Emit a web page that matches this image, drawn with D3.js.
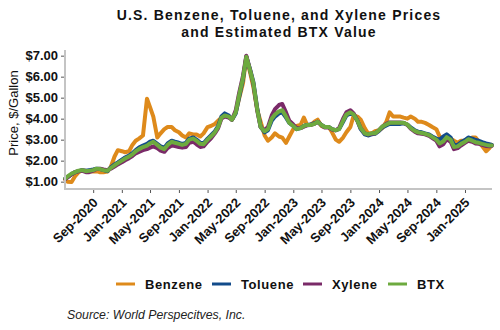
<!DOCTYPE html>
<html>
<head>
<meta charset="utf-8">
<script src="https://cdn.jsdelivr.net/npm/d3@7"></script>
<style>
  html, body { margin: 0; padding: 0; background: #ffffff; }
  svg { display: block; font-family: "Liberation Sans", Arial, sans-serif; }
</style>
</head>
<body>
<svg id="chart" width="500" height="330"></svg>
<script>
// ---- data ----
const titleLines = ["U.S. Benzene, Toluene, and Xylene Prices", "and Estimated BTX Value"];
const yAxisTitle = "Price, $/Gallon";
const sourceText = "Source: World Perspecitves, Inc.";
const seriesNames = ["Benzene", "Toluene", "Xylene", "BTX"];
const seriesColors = ["#DE8A1B", "#124B8A", "#7A2A68", "#6DAA3F"];

const dates = [
  "2020-05-05","2020-05-15","2020-06-01","2020-06-15","2020-07-01","2020-07-15","2020-08-01","2020-08-15",
  "2020-09-01","2020-09-15","2020-10-01","2020-10-15","2020-11-01","2020-11-15","2020-12-01","2020-12-15",
  "2021-01-01","2021-01-15","2021-02-01","2021-02-15","2021-03-01","2021-03-15","2021-04-01","2021-04-18",
  "2021-05-01","2021-05-15","2021-06-01","2021-06-15","2021-07-01","2021-07-15","2021-08-01","2021-08-15",
  "2021-09-01","2021-09-15","2021-10-01","2021-10-15","2021-11-01","2021-11-15","2021-12-01","2021-12-15",
  "2022-01-01","2022-01-15","2022-02-01","2022-02-15","2022-03-01","2022-03-15","2022-04-01","2022-04-15",
  "2022-05-01","2022-05-15","2022-06-01","2022-06-15","2022-07-01","2022-07-15","2022-08-01","2022-08-15",
  "2022-09-01","2022-09-15","2022-10-01","2022-10-15","2022-11-01","2022-11-15","2022-12-01","2022-12-15",
  "2023-01-01","2023-01-15","2023-02-01","2023-02-15","2023-03-01","2023-03-15","2023-04-01","2023-04-15",
  "2023-05-01","2023-05-15","2023-06-01","2023-06-15","2023-07-01","2023-07-15","2023-08-01","2023-08-15",
  "2023-09-01","2023-09-15","2023-10-01","2023-10-15","2023-11-01","2023-11-15","2023-12-01","2023-12-15",
  "2024-01-01","2024-01-15","2024-02-01","2024-02-15","2024-03-01","2024-03-15","2024-04-01","2024-04-15",
  "2024-05-01","2024-05-15","2024-06-01","2024-06-15","2024-07-01","2024-07-15","2024-08-01","2024-08-15",
  "2024-09-01","2024-09-15","2024-10-01","2024-10-15","2024-11-01","2024-11-15","2024-12-01","2024-12-15",
  "2025-01-01","2025-01-15","2025-02-01","2025-02-15","2025-03-01","2025-03-15","2025-04-01","2025-04-15",
  "2025-04-25"
];

const benzene = [
  1.10,1.00, 0.98,1.25, 1.45,1.55, 1.52,1.50,
  1.48,1.50, 1.45,1.45, 1.48,1.70, 2.20,2.50,
  2.45,2.40, 2.45,2.75, 2.95,3.05, 3.20,4.95,
  4.55,4.10, 3.10,3.30, 3.50,3.60, 3.60,3.45,
  3.35,3.20, 3.10,3.30, 3.25,3.25, 3.15,3.30,
  3.60,3.65, 3.75,3.90, 4.05,4.20, 4.10,3.95,
  4.30,4.95, 5.70,6.95, 6.20,5.50, 4.40,3.85,
  3.20,2.95, 3.10,3.30, 3.15,3.10, 2.85,3.15,
  3.50,3.65, 3.70,4.05, 3.70,3.70, 3.85,3.95,
  3.65,3.60, 3.60,3.35, 3.00,2.90, 3.10,3.35,
  3.60,4.15, 4.10,3.95, 3.55,3.30, 3.30,3.40,
  3.45,3.55, 3.85,4.30, 4.10,4.10, 4.10,4.05,
  4.00,4.10, 4.00,3.85, 3.85,3.80, 3.70,3.60,
  3.50,3.15, 3.05,3.10, 3.05,2.95, 2.85,2.95,
  2.95,3.00, 3.10,3.10, 2.90,2.70, 2.45,2.60,
  2.75
];

const toluene = [
  1.15,1.22, 1.35,1.45, 1.50,1.55, 1.52,1.55,
  1.58,1.62, 1.60,1.55, 1.50,1.68, 1.82,1.92,
  2.05,2.15, 2.25,2.35, 2.50,2.62, 2.72,2.80,
  2.90,2.95, 2.80,2.68, 2.62,2.82, 2.95,2.90,
  2.85,2.80, 2.85,3.05, 3.10,3.00, 2.85,2.83,
  3.05,3.20, 3.40,3.65, 4.10,4.25, 4.15,3.95,
  4.25,5.00, 5.90,6.95, 6.35,5.75, 4.45,3.60,
  3.35,3.45, 3.90,4.10, 4.25,4.30, 4.05,3.80,
  3.65,3.50, 3.55,3.65, 3.70,3.72, 3.78,3.85,
  3.70,3.60, 3.60,3.50, 3.45,3.50, 3.85,4.15,
  4.25,4.20, 3.90,3.50, 3.25,3.20, 3.25,3.28,
  3.42,3.58, 3.68,3.75, 3.75,3.75, 3.75,3.78,
  3.72,3.58, 3.45,3.38, 3.35,3.30, 3.25,3.15,
  3.05,3.00, 3.15,3.25, 3.10,2.75, 2.75,2.88,
  2.98,3.10, 3.05,2.98, 2.95,2.88, 2.82,2.78,
  2.75
];

const xylene = [
  1.12,1.20, 1.35,1.45, 1.50,1.52, 1.45,1.45,
  1.52,1.60, 1.62,1.58, 1.55,1.62, 1.72,1.82,
  1.92,2.02, 2.12,2.22, 2.35,2.42, 2.50,2.55,
  2.62,2.68, 2.60,2.48, 2.42,2.60, 2.72,2.70,
  2.65,2.62, 2.65,2.85, 2.90,2.78, 2.65,2.68,
  2.90,3.05, 3.30,3.55, 4.00,4.10, 4.05,3.95,
  4.40,5.20, 6.05,7.00, 6.30,5.65, 4.35,3.60,
  3.45,3.60, 4.15,4.45, 4.65,4.70, 4.30,3.90,
  3.72,3.55, 3.55,3.62, 3.68,3.70, 3.75,3.85,
  3.68,3.58, 3.58,3.48, 3.45,3.55, 4.00,4.30,
  4.40,4.25, 3.90,3.55, 3.30,3.25, 3.28,3.30,
  3.45,3.62, 3.75,3.82, 3.82,3.82, 3.82,3.80,
  3.70,3.52, 3.38,3.30, 3.28,3.25, 3.18,3.08,
  2.95,2.68, 2.78,3.02, 2.90,2.55, 2.60,2.72,
  2.85,2.95, 2.90,2.82, 2.80,2.75, 2.70,2.68,
  2.70
];

const btx = [
  1.15,1.25, 1.38,1.45, 1.52,1.55, 1.50,1.52,
  1.55,1.62, 1.60,1.55, 1.52,1.65, 1.78,1.88,
  2.00,2.10, 2.20,2.30, 2.45,2.55, 2.65,2.72,
  2.82,2.90, 2.75,2.62, 2.55,2.75, 2.90,2.85,
  2.80,2.75, 2.80,3.00, 3.05,2.95, 2.80,2.78,
  3.00,3.15, 3.35,3.60, 4.05,4.15, 4.10,3.95,
  4.30,5.10, 5.95,6.95, 6.30,5.70, 4.40,3.60,
  3.40,3.50, 4.00,4.20, 4.35,4.40, 4.10,3.80,
  3.65,3.50, 3.55,3.65, 3.70,3.70, 3.75,3.85,
  3.70,3.60, 3.60,3.50, 3.45,3.50, 3.90,4.20,
  4.30,4.20, 3.90,3.55, 3.30,3.25, 3.30,3.30,
  3.45,3.62, 3.72,3.80, 3.80,3.80, 3.80,3.80,
  3.72,3.55, 3.42,3.35, 3.32,3.28, 3.22,3.12,
  3.00,2.82, 2.92,3.12, 3.00,2.65, 2.68,2.80,
  2.90,3.02, 2.95,2.88, 2.85,2.80, 2.75,2.72,
  2.72
];

const yTickValues = [1, 2, 3, 4, 5, 6, 7];
const xTickDates = ["2020-09-01","2021-01-01","2021-05-01","2021-09-01","2022-01-01","2022-05-01",
  "2022-09-01","2023-01-01","2023-05-01","2023-09-01","2024-01-01","2024-05-01","2024-09-01","2025-01-01"];

// ---- drawing ----
(function () {
const svg = d3.select("#chart");
const parse = d3.utcParse("%Y-%m-%d");
const pLeft = 65, pRight = 492, pTop = 50, pBottom = 189;

const x = d3.scaleUtc()
  .domain([parse("2020-05-04"), parse("2025-04-26")])
  .range([pLeft, pRight]);
const y = d3.scaleLinear().domain([0.65, 7.27]).range([pBottom, pTop]);

// title
svg.append("text")
  .attr("x", 279).attr("y", 20)
  .attr("text-anchor", "middle")
  .style("font-size", "14px").style("font-weight", "bold").style("letter-spacing", "1.2px")
  .attr("fill", "#111")
  .selectAll("tspan").data(titleLines).join("tspan")
  .attr("x", 279).attr("dy", (d, i) => i === 0 ? 0 : 16.5)
  .text(d => d);

// lines
const allSeries = [benzene, toluene, xylene, btx];
const line = d3.line()
  .x((d, i) => x(parse(dates[i])))
  .y(d => y(d));
allSeries.forEach((vals, k) => {
  svg.append("path")
    .datum(vals)
    .attr("d", line)
    .attr("fill", "none")
    .attr("stroke", seriesColors[k])
    .attr("stroke-width", 4)
    .attr("stroke-linejoin", "round")
    .attr("stroke-linecap", "round");
});

// y axis
const yAxis = svg.append("g").attr("transform", `translate(${pLeft},0)`)
  .call(d3.axisLeft(y).tickValues(yTickValues).tickFormat(d3.format("$.2f")).tickSize(4).tickPadding(3));
yAxis.select(".domain").remove();
yAxis.selectAll(".tick line").attr("stroke", "#555").attr("stroke-width", 1);
yAxis.selectAll(".tick text")
  .style("font-size", "13px").style("font-weight", "bold").attr("fill", "#111")
  .style("font-family", "Liberation Sans, Arial, sans-serif");

// x axis
const xAxis = svg.append("g").attr("transform", `translate(0,${pBottom})`)
  .call(d3.axisBottom(x).tickValues(xTickDates.map(parse)).tickFormat(d3.utcFormat("%b-%Y")).tickSize(4));
xAxis.select(".domain").remove();
xAxis.selectAll(".tick line").attr("stroke", "#555").attr("stroke-width", 1);
xAxis.selectAll(".tick text")
  .style("font-size", "13px").style("font-weight", "bold").attr("fill", "#111")
  .style("font-family", "Liberation Sans, Arial, sans-serif")
  .attr("text-anchor", "end")
  .attr("x", 0).attr("y", 0).attr("dx", 0).attr("dy", 0)
  .attr("transform", "translate(5,14.5) rotate(-45)");

// axis frame lines (gray)
svg.append("line").attr("x1", pLeft).attr("x2", pLeft).attr("y1", pTop).attr("y2", pBottom)
  .attr("stroke", "#c4c4c4").attr("stroke-width", 2);
svg.append("line").attr("x1", pLeft - 1).attr("x2", pRight).attr("y1", pBottom).attr("y2", pBottom)
  .attr("stroke", "#c4c4c4").attr("stroke-width", 2);

// y axis title
svg.append("text")
  .attr("transform", "translate(18,113) rotate(-90)")
  .attr("text-anchor", "middle")
  .style("font-size", "13px").attr("fill", "#111")
  .text(yAxisTitle);

// legend
const legendX = [116, 212, 303, 388];
const legend = svg.append("g");
seriesNames.forEach((name, k) => {
  legend.append("line")
    .attr("x1", legendX[k]).attr("x2", legendX[k] + 19)
    .attr("y1", 284).attr("y2", 284)
    .attr("stroke", seriesColors[k]).attr("stroke-width", 3);
  legend.append("text")
    .attr("x", legendX[k] + 29).attr("y", 289)
    .style("font-size", "13px").style("font-weight", "bold").style("letter-spacing", "0.6px")
    .attr("fill", "#111")
    .text(name);
});

// source
svg.append("text")
  .attr("x", 67).attr("y", 319)
  .style("font-size", "12.3px").style("font-style", "italic").attr("fill", "#222")
  .text(sourceText);
})();
</script>
</body>
</html>
